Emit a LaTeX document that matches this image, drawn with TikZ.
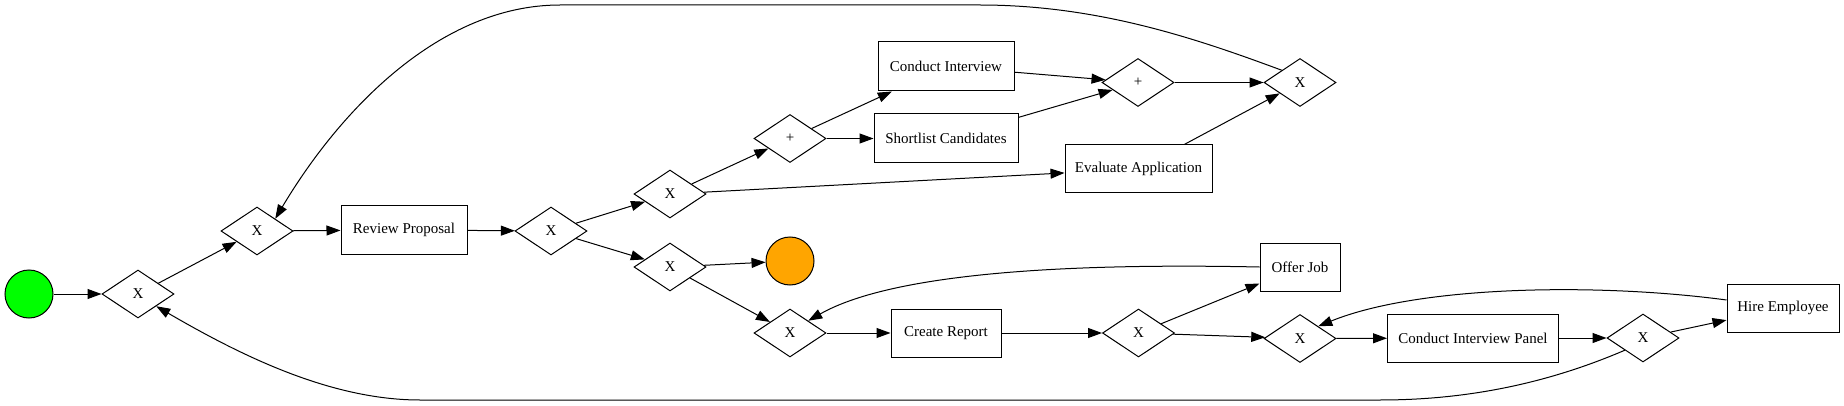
\documentclass[tikz,border=0pt]{standalone}
\usepackage{fontspec}
\setmainfont{Liberation Serif}
\usetikzlibrary{shapes.geometric,arrows.meta}
\begin{document}
\begin{tikzpicture}[x=1pt,y=-1pt,
  every node/.style={font=\fontsize{15}{18}\selectfont},
  task/.style={draw,line width=1pt,fill=white,rectangle,minimum height=48pt,inner sep=0pt},
  gw/.style={draw,line width=1pt,fill=white,diamond,minimum width=72pt,minimum height=48pt,inner sep=0pt},
  ev/.style={draw,line width=1pt,circle,minimum size=48pt,inner sep=0pt},
  flow/.style={line width=1pt,-{Triangle[length=14pt,width=10pt]}}
]
\useasboundingbox (0,0) rectangle (1844,406);

% events
\node[ev,fill={rgb,255:red,0;green,255;blue,0}] (start) at (29,294) {};
\node[ev,fill={rgb,255:red,255;green,165;blue,0}] (end) at (790,261) {};

% gateways
\node[gw] (g1) at (138,294) {X};
\node[gw] (g2) at (257,231) {X};
\node[gw] (g3) at (551,231) {X};
\node[gw] (g4) at (670,194) {X};
\node[gw] (g5) at (670,267) {X};
\node[gw] (p1) at (790,138.5) {+};
\node[gw] (p2) at (1138,82.5) {+};
\node[gw] (g6) at (1300,82.5) {X};
\node[gw] (g7) at (790,333) {X};
\node[gw] (g8) at (1138.5,333) {X};
\node[gw] (g9) at (1300,338.5) {X};
\node[gw] (g10) at (1643,338) {X};

% tasks
\node[task,minimum width=126pt] (rp) at (404,230) {Review Proposal};
\node[task,minimum width=136pt,minimum height=49pt] (ci) at (946,66.5) {Conduct Interview};
\node[task,minimum width=144pt,minimum height=49pt] (sc) at (946,138.5) {Shortlist Candidates};
\node[task,minimum width=147pt] (ea) at (1138.5,169) {Evaluate Application};
\node[task,minimum width=110pt] (cr) at (946,333) {Create Report};
\node[task,minimum width=80pt] (oj) at (1300,267) {Offer Job};
\node[task,minimum width=171pt] (cip) at (1473,338) {Conduct Interview Panel};
\node[task,minimum width=112pt] (he) at (1783,308) {Hire Employee};

% straight flows
\draw[flow] (start) -- (g1);
\draw[flow] (g1) -- (g2);
\draw[flow] (g2) -- (rp);
\draw[flow] (rp) -- (g3);
\draw[flow] (g3) -- (g4);
\draw[flow] (g3) -- (g5);
\draw[flow] (g4) -- (p1);
\draw[flow] (g4) -- (ea);
\draw[flow] (p1) -- (ci);
\draw[flow] (p1) -- (sc);
\draw[flow] (ci) -- (p2);
\draw[flow] (sc) -- (p2);
\draw[flow] (p2) -- (g6);
\draw[flow] (ea) -- (g6);
\draw[flow] (g5) -- (end);
\draw[flow] (g5) -- (g7);
\draw[flow] (g7) -- (cr);
\draw[flow] (cr) -- (g8);
\draw[flow] (g8) -- (oj);
\draw[flow] (g8) -- (g9);
\draw[flow] (g9) -- (cip);
\draw[flow] (cip) -- (g10);
\draw[flow] (g10) -- (he);

% curved flows
\draw[flow] (oj.west) .. controls (1020,262) and (880,280) .. (g7.north east);
\draw[flow] (he.west |- 0,300) .. controls (1600,283) and (1420,285) .. (g9.north east);
\draw[flow] (g6.north west) .. controls (1200,40) and (1100,5) .. (980,5) -- (560,5) .. controls (440,5) and (340,110) .. (g2.north east);
\draw[flow] (g10.south west) .. controls (1560,378) and (1480,400) .. (1380,400) -- (420,400) .. controls (330,400) and (240,355) .. (g1.south east);
\end{tikzpicture}
\end{document}
